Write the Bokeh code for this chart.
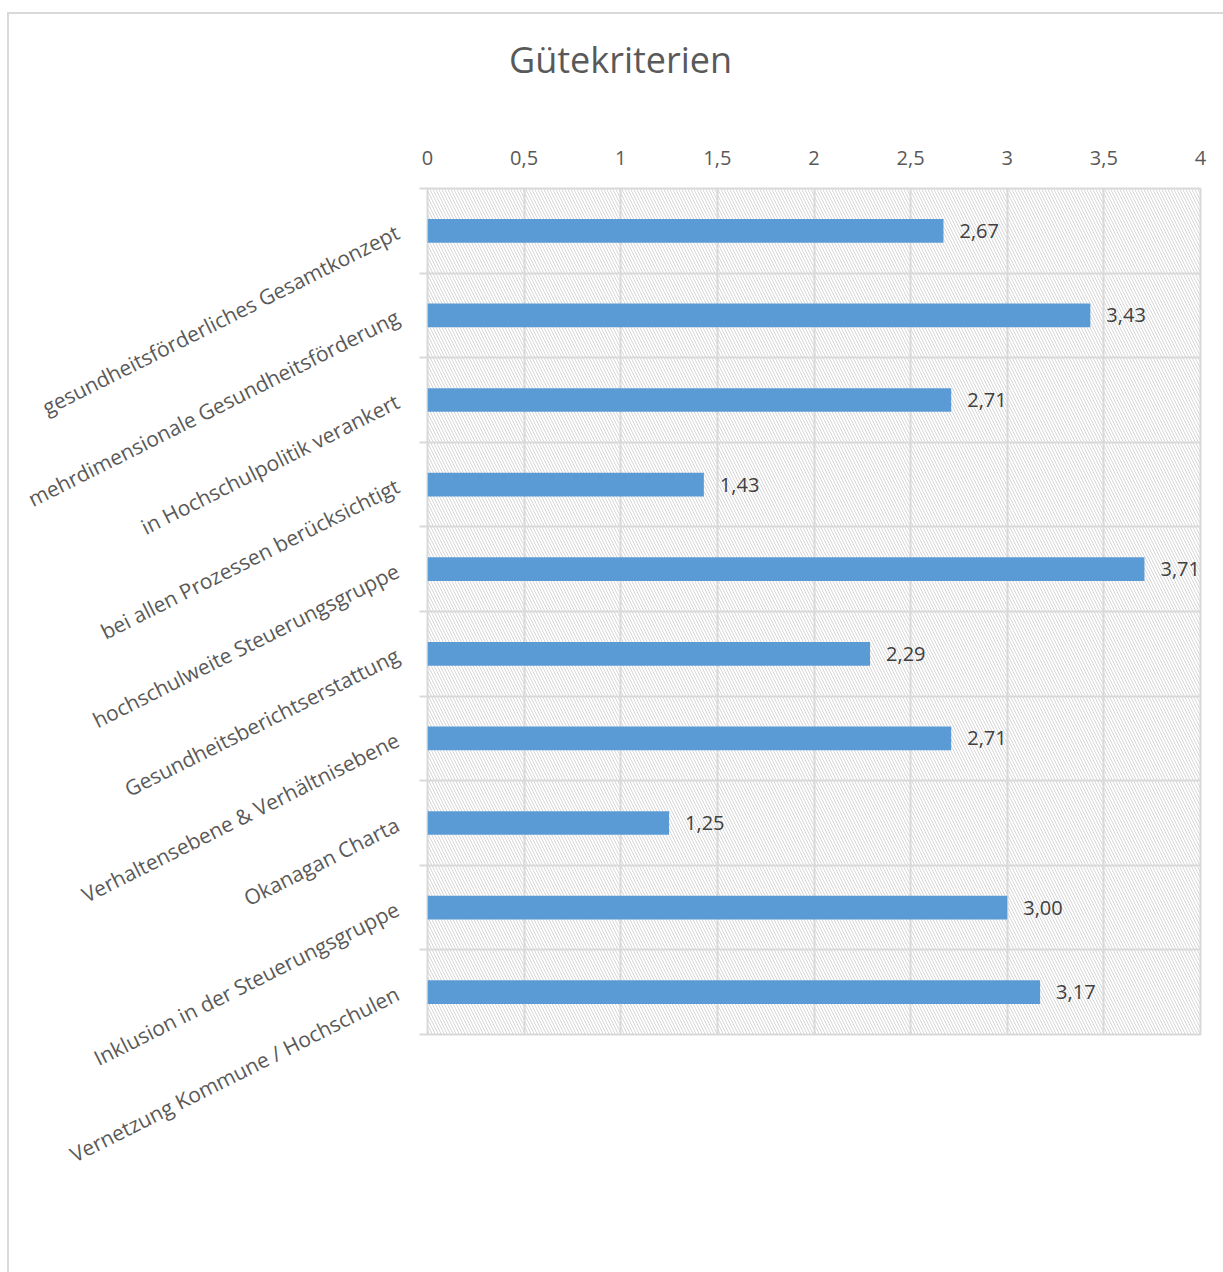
from bokeh.plotting import figure
from bokeh.layouts import column
from bokeh.models import ColumnDataSource, FixedTicker, Range1d, LabelSet, Div
from bokeh.core.properties import value
from bokeh.embed import file_html
from bokeh.resources import INLINE

# Kriterien (von oben nach unten) und ihre Mittelwerte
criteria = [
    "gesundheitsförderliches Gesamtkonzept",
    "mehrdimensionale Gesundheitsförderung",
    "in Hochschulpolitik verankert",
    "bei allen Prozessen berücksichtigt",
    "hochschulweite Steuerungsgruppe",
    "Gesundheitsberichtserstattung",
    "Verhaltensebene & Verhältnisebene",
    "Okanagan Charta",
    "Inklusion in der Steuerungsgruppe",
    "Vernetzung Kommune / Hochschulen",
]
scores = [2.67, 3.43, 2.71, 1.43, 3.71, 2.29, 2.71, 1.25, 3.00, 3.17]
x_ticks = [0, 0.5, 1, 1.5, 2, 2.5, 3, 3.5, 4]
x_tick_labels = ["0", "0,5", "1", "1,5", "2", "2,5", "3", "3,5", "4"]
chart_title = "Gütekriterien"

FONT = "Open Sans"
GREY_TXT = "#595959"
GRID = "#d9d9d9"

n = len(criteria)
centers = [i + 0.5 for i in range(n)]
score_text = [f"{v:.2f}".replace(".", ",") for v in scores]

src = ColumnDataSource(dict(y=centers, value=scores, label=score_text))

# title block above the plot
TITLE_H = 100
TITLE_TOP = 22
title_div = Div(
    text=chart_title, width=400, height=TITLE_H - TITLE_TOP,
    margin=(TITLE_TOP, 0, 0, 500),
    styles={"font-family": FONT, "font-size": "36px", "color": GREY_TXT,
            "line-height": "48px", "white-space": "nowrap"},
)

W, H = 1216, 1260 - TITLE_H
p = figure(
    width=W, height=H,
    x_range=Range1d(0, 4), y_range=Range1d(n, 0),
    x_axis_location="above",
    output_backend="svg", toolbar_location=None,
    min_border_left=418, min_border_right=25,
    min_border_top=174 - TITLE_H, min_border_bottom=240,
)
p.margin = (0, 0, 0, 0)
p.outline_line_color = GRID
p.outline_line_width = 2

# hatched plot background
p.quad(left=0, right=4, bottom=0, top=n, fill_color=None, line_color=None,
       hatch_pattern="left_diagonal_line", hatch_color="#d6d6d6",
       hatch_scale=6, hatch_weight=1, level="image")

# grid: vertical at x ticks, horizontal at category boundaries
p.xgrid.ticker = FixedTicker(ticks=x_ticks)
p.xgrid.grid_line_color = GRID
p.xgrid.grid_line_width = 2
p.ygrid.ticker = FixedTicker(ticks=list(range(1, n)))
p.ygrid.grid_line_color = GRID
p.ygrid.grid_line_width = 2

# value axis on top
xa = p.xaxis[0]
xa.ticker = FixedTicker(ticks=x_ticks)
xa.major_label_overrides = {t: s for t, s in zip(x_ticks, x_tick_labels)}
xa.axis_line_color = None
xa.major_tick_line_color = None
xa.minor_tick_line_color = None
xa.major_label_standoff = 18
xa.major_label_text_font = FONT
xa.major_label_text_font_size = "20px"
xa.major_label_text_color = GREY_TXT

# category axis: labels at centers, small ticks at boundaries
ya = p.yaxis[0]
ya.ticker = FixedTicker(ticks=centers, minor_ticks=list(range(0, n + 1)))
ya.major_label_overrides = {c: name for c, name in zip(centers, criteria)}
ya.major_label_orientation = 0.465
ya.axis_line_color = None
ya.major_tick_line_color = None
ya.minor_tick_out = 8
ya.minor_tick_in = 0
ya.minor_tick_line_color = GRID
ya.minor_tick_line_width = 2
ya.major_label_standoff = 22
ya.major_label_text_font = FONT
ya.major_label_text_font_size = "21px"
ya.major_label_text_color = GREY_TXT

p.hbar(y="y", right="value", left=0, height=0.28, source=src,
       fill_color="#5b9bd5", line_color=None)

p.add_layout(LabelSet(x="value", y="y", text="label", source=src,
                      x_offset=16, text_align="left", text_baseline="middle",
                      text_font=value(FONT), text_font_size=value("20px"),
                      text_color="#404040"))

chart = column(title_div, p, spacing=0, margin=(12, 0, 0, 7),
               styles={"border-top": f"2px solid {GRID}",
                       "border-left": f"2px solid {GRID}"})

open("out.html", "w").write(file_html(chart, INLINE))
